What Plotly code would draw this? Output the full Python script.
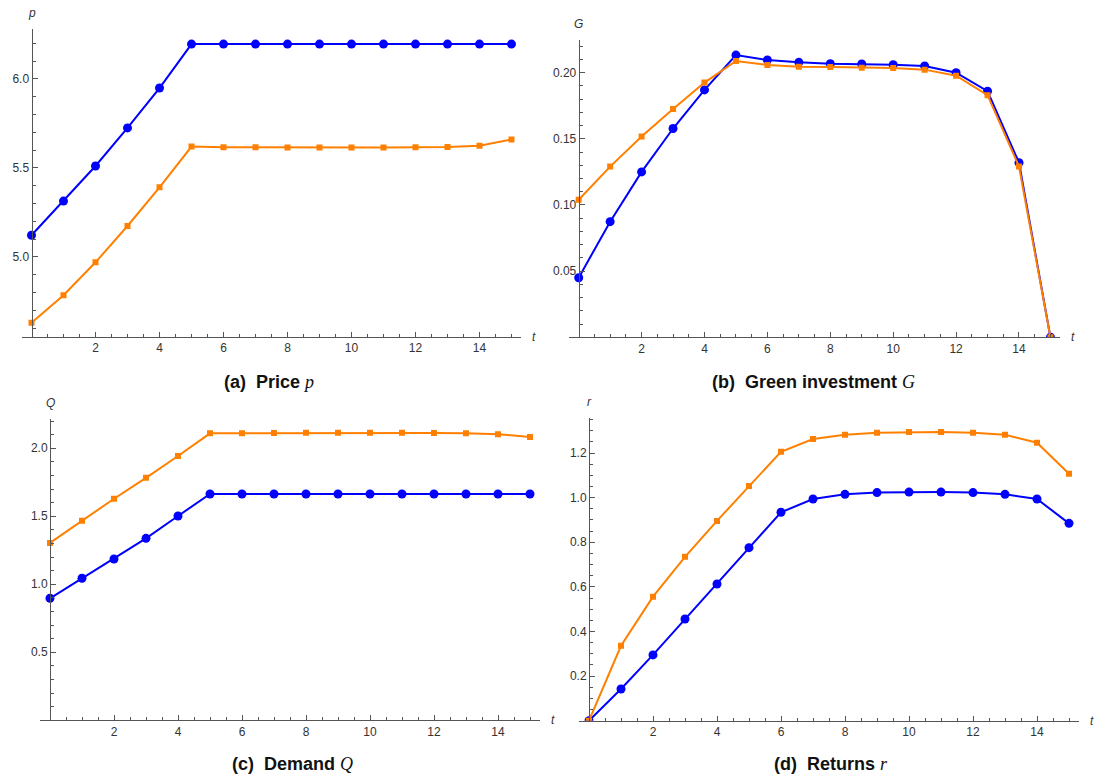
import numpy as np
import plotly.graph_objects as go

W, H = 1094, 778

t = list(range(16))

price_blue = [5.122, 5.314, 5.511, 5.725, 5.949, 6.196, 6.196, 6.196, 6.196, 6.196, 6.196, 6.196, 6.196, 6.196, 6.196, 6.196]
price_orange = [4.631, 4.785, 4.970, 5.174, 5.391, 5.620, 5.617, 5.616, 5.615, 5.615, 5.615, 5.615, 5.616, 5.618, 5.625, 5.660]

green_blue = [0.045, 0.0874, 0.125, 0.1578, 0.187, 0.2133, 0.2096, 0.2078, 0.2068, 0.2066, 0.2060, 0.2051, 0.2000, 0.1860, 0.1320, 0.0]
green_orange = [0.1040, 0.1290, 0.1517, 0.1726, 0.1925, 0.2088, 0.2058, 0.2045, 0.2043, 0.2038, 0.2036, 0.2023, 0.1977, 0.1830, 0.1290, 0.0]

demand_blue = [0.897, 1.044, 1.186, 1.338, 1.502, 1.664, 1.664, 1.664, 1.664, 1.664, 1.664, 1.664, 1.664, 1.664, 1.664, 1.664]
demand_orange = [1.304, 1.468, 1.629, 1.783, 1.943, 2.110, 2.111, 2.112, 2.114, 2.115, 2.115, 2.115, 2.113, 2.110, 2.104, 2.083]

returns_blue = [0.0, 0.142, 0.295, 0.456, 0.613, 0.776, 0.9345, 0.994, 1.015, 1.023, 1.025, 1.025, 1.023, 1.015, 0.994, 0.885]
returns_orange = [0.0, 0.336, 0.556, 0.735, 0.896, 1.052, 1.206, 1.263, 1.2825, 1.2915, 1.2945, 1.2945, 1.2915, 1.2825, 1.2466, 1.1076]

x_ticks = [2, 4, 6, 8, 10, 12, 14]

panels = [
    dict(name="a", blue=price_blue, orange=price_orange, yr=[4.552, 6.279], x0=31.5, ppu=32.0,
         ybot=336.7, ytop=29.3, yticks=[5.0, 5.5, 6.0], yfmt="{:.1f}", ymin=0.1, ylab="p",
         cap="(a)  Price ", var="p", capx=269, capy=382),
    dict(name="b", blue=green_blue, orange=green_orange, yr=[0.0, 0.2247], x0=578.7, ppu=31.45,
         ybot=337.3, ytop=40.0, yticks=[0.05, 0.10, 0.15, 0.20], yfmt="{:.2f}", ymin=0.01, ylab="G",
         cap="(b)  Green investment ", var="G", capx=813, capy=382),
    dict(name="c", blue=demand_blue, orange=demand_orange, yr=[0.0, 2.213], x0=50.0, ppu=32.0,
         ybot=720.3, ytop=419.3, yticks=[0.5, 1.0, 1.5, 2.0], yfmt="{:.1f}", ymin=0.1, ylab="Q",
         cap="(c)  Demand ", var="Q", capx=292, capy=764),
    dict(name="d", blue=returns_blue, orange=returns_orange, yr=[0.0, 1.356], x0=589.0, ppu=32.0,
         ybot=720.7, ytop=418.3, yticks=[0.2, 0.4, 0.6, 0.8, 1.0, 1.2], yfmt="{:.1f}", ymin=0.05, ylab="r",
         cap="(d)  Returns ", var="r", capx=831, capy=764),
]

BLUE = "#0000FF"
ORANGE = "#FF8000"
AXC = "#555555"
TXT = "#333333"
FONT = "Liberation Sans"

fig = go.Figure()
layout = dict(width=W, height=H, margin=dict(l=0, r=0, t=0, b=0),
              paper_bgcolor="white", plot_bgcolor="white", showlegend=False)
annotations = []

def fx(px):
    return px / W

def fy(py):
    return 1 - py / H

for i, p in enumerate(panels):
    k = "" if i == 0 else str(i + 1)
    xa, ya = "x" + k, "y" + k
    fig.add_trace(go.Scatter(x=t, y=p["blue"], mode="lines+markers", xaxis=xa, yaxis=ya,
                             line=dict(color=BLUE, width=2),
                             marker=dict(symbol="circle", size=9, color=BLUE)))
    fig.add_trace(go.Scatter(x=t, y=p["orange"], mode="lines+markers", xaxis=xa, yaxis=ya,
                             line=dict(color=ORANGE, width=2),
                             marker=dict(symbol="square", size=6, color=ORANGE)))
    xl = p["x0"] - 0.3 * p["ppu"]
    xr = p["x0"] + 15.3 * p["ppu"]
    minor_x = [v for v in np.arange(0.5, 15.01, 0.5) if v not in x_ticks]
    layout["xaxis" + k] = dict(
        domain=[fx(xl), fx(xr)], range=[-0.3, 15.3], anchor=ya,
        showgrid=False, zeroline=False, showline=True, linecolor=AXC, linewidth=1,
        ticks="inside", ticklen=5, tickcolor=AXC, tickwidth=1,
        tickmode="array", tickvals=x_ticks, ticktext=[str(v) for v in x_ticks],
        tickfont=dict(family=FONT, size=12, color=TXT),
        minor=dict(ticks="inside", ticklen=3, tickcolor=AXC, tickmode="array",
                   tickvals=minor_x, showgrid=False),
    )
    y0, y1 = p["yr"]
    start = np.ceil(y0 / p["ymin"] - 1e-9) * p["ymin"]
    minor_y = [v for v in np.arange(start, y1, p["ymin"])
               if all(abs(v - m) > 1e-6 for m in p["yticks"])]
    layout["yaxis" + k] = dict(
        domain=[fy(p["ybot"]), fy(p["ytop"])], range=p["yr"], anchor="free",
        position=fx(p["x0"]),
        showgrid=False, zeroline=False, showline=True, linecolor=AXC, linewidth=1,
        ticks="inside", ticklen=5, tickcolor=AXC, tickwidth=1,
        tickmode="array", tickvals=p["yticks"], ticktext=[p["yfmt"].format(v) for v in p["yticks"]],
        tickfont=dict(family=FONT, size=12, color=TXT),
        minor=dict(ticks="inside", ticklen=3, tickcolor=AXC, tickmode="array",
                   tickvals=minor_y, showgrid=False),
    )
    # axis labels
    annotations.append(dict(xref="paper", yref="paper", x=fx(p["x0"]), y=fy(p["ytop"] - 16),
                            text="<i>" + p["ylab"] + "</i>", showarrow=False,
                            font=dict(family=FONT, size=12, color=TXT), xanchor="center", yanchor="middle"))
    annotations.append(dict(xref="paper", yref="paper", x=fx(xr + 13), y=fy(p["ybot"]),
                            text="<i>t</i>", showarrow=False,
                            font=dict(family=FONT, size=12, color=TXT), xanchor="center", yanchor="middle"))
    annotations.append(dict(xref="paper", yref="paper", x=fx(p["capx"]), y=fy(p["capy"]),
                            text="<b>" + p["cap"] + "</b><span style='font-family:Liberation Serif'><i>" + p["var"] + "</i></span>",
                            showarrow=False, font=dict(family=FONT, size=18, color="#111111"),
                            xanchor="center", yanchor="middle"))

layout["annotations"] = annotations
fig.update_layout(**layout)
fig.write_html("out.html")
